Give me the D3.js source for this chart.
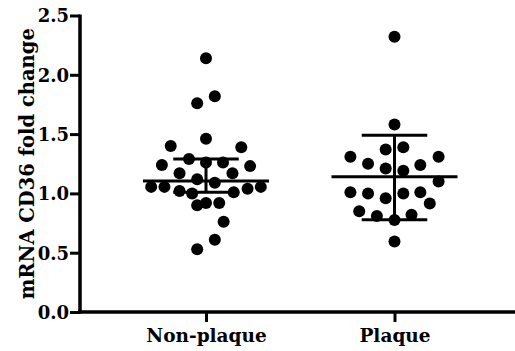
<!DOCTYPE html>
<html>
    <head>
        <meta charset="utf-8">
        <title>mRNA CD36 fold change</title>
        <style>
            body { margin: 0; background: #fff; }
            text { font-family: 'DejaVu Serif', serif; font-weight: bold; fill: #000; }
        </style>
        <script src="https://d3js.org/d3.v7.min.js"></script>
    </head>
    <body>
        <div id="chart"></div>
        <script>
            var groups = ["Non-plaque", "Plaque"];
            // fold change values, with the horizontal spread of each dot (-1..1)
            var nonPlaqueValues = [2.14, 1.82, 1.76, 1.46, 1.40, 1.39, 1.29, 1.26, 1.26, 1.24, 1.23, 1.17, 1.17, 1.12,
                                   1.09, 1.055, 1.055, 1.04, 1.055, 1.02, 1.00, 1.01, 0.90, 0.92, 0.92, 0.76, 0.61, 0.53];
            var nonPlaqueSpread = [0, 0.14, -0.14, 0, -0.56, 0.56, -0.27, 0, 0.27, -0.70, 0.70, -0.42, 0.42, -0.14,
                                   0.14, -0.87, -0.66, 0.66, 0.87, -0.42, -0.22, 0.44, -0.14, 0, 0.21, 0.28, 0.14, -0.14];
            var plaqueValues = [2.32, 1.58, 1.37, 1.39, 1.31, 1.31, 1.25, 1.24, 1.21, 1.19, 1.10, 1.01, 1.00, 1.00,
                                1.01, 0.96, 0.915, 0.85, 0.81, 0.82, 0.775, 0.595];
            var plaqueSpread = [0, 0, -0.14, 0.14, -0.70, 0.70, -0.42, 0.41, -0.14, 0.14, 0.70, -0.70, -0.42, 0.14,
                                0.41, -0.14, 0.56, -0.56, -0.28, 0.27, 0, 0];
            // centre line and error bar ends
            var centres = [1.105, 1.14];
            var lowers = [1.01, 0.777];
            var uppers = [1.29, 1.49];
            var yTicks = [0, 0.5, 1.0, 1.5, 2.0, 2.5];

            var width = 515, height = 351;
            var svg = d3.select("#chart").append("svg")
                .attr("width", width)
                .attr("height", height);

            var y = d3.scaleLinear().domain([0, 2.5]).range([312, 15.5]);
            var x = d3.scalePoint().domain(groups).range([206, 394.5]);
            var spread = d3.scaleLinear().domain([-1, 1]).range([-63, 63]);

            var yAxis = svg.append("g")
                .attr("transform", "translate(80,0)")
                .call(d3.axisLeft(y).tickValues(yTicks).tickFormat(d3.format(".1f")).tickSize(10).tickSizeOuter(0));
            yAxis.select(".domain").attr("stroke-width", 3.5).attr("d", "M0," + (y(0) + 1.5) + "V" + (y(2.5) - 1));
            yAxis.selectAll(".tick line").attr("stroke-width", 3);
            yAxis.selectAll(".tick text").attr("font-size", 18).attr("x", -11).attr("dy", "0.36em");

            var xAxis = svg.append("g")
                .attr("transform", "translate(0," + y(0) + ")")
                .call(d3.axisBottom(x).tickSize(10).tickSizeOuter(0));
            xAxis.select(".domain").attr("stroke-width", 3.5).attr("d", "M78,0H" + width);
            xAxis.selectAll(".tick line").attr("stroke-width", 3);
            xAxis.selectAll(".tick text").attr("font-size", 18.5).attr("y", 17);
            svg.selectAll(".tick text").attr("font-family", null);

            svg.append("text")
                .attr("transform", "translate(34," + ((y(0) + y(2.5)) / 2) + ") rotate(-90)")
                .attr("text-anchor", "middle")
                .attr("font-size", 19.5)
                .text("mRNA CD36 fold change");

            var series = [
                {group: groups[0], values: nonPlaqueValues, spread: nonPlaqueSpread},
                {group: groups[1], values: plaqueValues, spread: plaqueSpread}
            ];

            series.forEach(function (s, i) {
                var cx = x(s.group);
                svg.append("g").selectAll("circle")
                    .data(s.values)
                    .join("circle")
                    .attr("cx", function (d, j) { return cx + spread(s.spread[j]); })
                    .attr("cy", function (d) { return y(d); })
                    .attr("r", 6)
                    .attr("fill", "#000");

                var g = svg.append("g").attr("stroke", "#000").attr("stroke-width", 3);
                g.append("line")
                    .attr("x1", cx + spread(-1)).attr("x2", cx + spread(1))
                    .attr("y1", y(centres[i])).attr("y2", y(centres[i]));
                g.append("line")
                    .attr("x1", cx).attr("x2", cx)
                    .attr("y1", y(lowers[i])).attr("y2", y(uppers[i]));
                [lowers[i], uppers[i]].forEach(function (v) {
                    g.append("line")
                        .attr("x1", cx + spread(-0.52)).attr("x2", cx + spread(0.52))
                        .attr("y1", y(v)).attr("y2", y(v));
                });
            });
        </script>
    </body>
</html>
